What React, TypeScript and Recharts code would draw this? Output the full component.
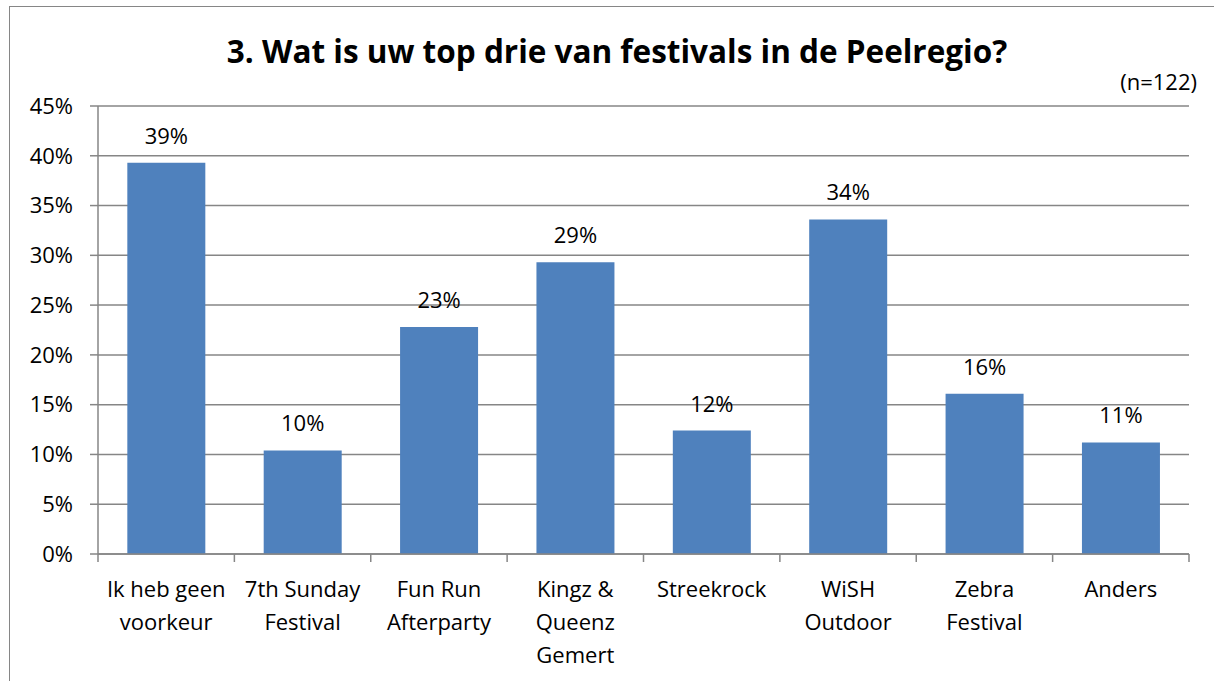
import { BarChart, Bar, XAxis, YAxis, CartesianGrid, LabelList } from 'recharts'

const categories = [
  'Ik heb geen\nvoorkeur',
  '7th Sunday\nFestival',
  'Fun Run\nAfterparty',
  'Kingz &\nQueenz\nGemert',
  'Streekrock',
  'WiSH\nOutdoor',
  'Zebra\nFestival',
  'Anders',
]
const percentages = [39.3, 10.4, 22.8, 29.3, 12.4, 33.6, 16.1, 11.2]
const yTicks = [0, 5, 10, 15, 20, 25, 30, 35, 40, 45]

const title = '3. Wat is uw top drie van festivals in de Peelregio?'
const sampleNote = '(n=122)'

const W = 1214
const H = 681
const margin = { top: 106, right: 25, left: 0, bottom: 7 }
const yAxisWidth = 98
const font = '"Open Sans", Lato, sans-serif'
const gray = '#868686'

const data = categories.map((name, i) => ({ name, value: percentages[i] }))

// half the category band, used to put tick marks on the category borders like Excel
const band = (W - margin.left - margin.right - yAxisWidth) / categories.length

function CategoryTick(props: any) {
  const { x, y, payload, index } = props
  const lines = String(payload.value).split('\n')
  return (
    <g>
      <line x1={x - band / 2} y1={y - 8} x2={x - band / 2} y2={y} stroke={gray} strokeWidth={1.5} />
      {index === categories.length - 1 && (
        <line x1={x + band / 2} y1={y - 8} x2={x + band / 2} y2={y} stroke={gray} strokeWidth={1.5} />
      )}
      <text x={x} y={y} textAnchor="middle" fontSize={22} fontFamily={font} fill="#000">
        {lines.map((l, i) => (
          <tspan key={i} x={x} dy={i === 0 ? 35 : 33}>{l}</tspan>
        ))}
      </text>
    </g>
  )
}

export default function App() {
  return (
    <div style={{ position: 'fixed', left: 0, top: 0, width: W, height: H, overflow: 'hidden', background: '#fff' }}>
      <div
        style={{
          position: 'absolute', left: 9, top: 6, width: W + 50, height: H + 50,
          borderLeft: `1.5px solid ${gray}`, borderTop: `1.5px solid ${gray}`,
        }}
      />
      <div
        style={{
          position: 'absolute', left: 10, top: 31, width: W, textAlign: 'center',
          fontFamily: font, fontWeight: 700, fontSize: 31.5, lineHeight: '40px', color: '#000',
        }}
      >
        {title}
      </div>
      <div
        style={{
          position: 'absolute', right: 17, top: 67, fontFamily: font, fontSize: 22,
          lineHeight: '28px', color: '#000',
        }}
      >
        {sampleNote}
      </div>
      <div style={{ position: 'absolute', left: 0, top: 0 }}>
        <BarChart width={W} height={H} data={data} margin={margin} barCategoryGap="21.5%">
          <CartesianGrid vertical={false} stroke={gray} strokeWidth={1.5} />
          <XAxis
            dataKey="name"
            interval={0}
            height={120}
            tickLine={false}
            axisLine={{ stroke: gray, strokeWidth: 1.5 }}
            tick={<CategoryTick />}
          />
          <YAxis
            width={yAxisWidth}
            domain={[0, 45]}
            ticks={yTicks}
            interval={0}
            tickFormatter={(v: number) => `${v}%`}
            tickSize={8}
            tickMargin={17}
            tickLine={{ stroke: gray, strokeWidth: 1.5 }}
            axisLine={{ stroke: gray, strokeWidth: 1.5 }}
            tick={{ fill: '#000', fontSize: 22, fontFamily: font }}
          />
          <Bar dataKey="value" fill="#4F81BD" isAnimationActive={false}>
            <LabelList
              dataKey="value"
              position="top"
              offset={19}
              formatter={(v: number) => `${Math.round(v)}%`}
              style={{ fill: '#000', fontSize: 22, fontFamily: font }}
            />
          </Bar>
        </BarChart>
      </div>
    </div>
  )
}
